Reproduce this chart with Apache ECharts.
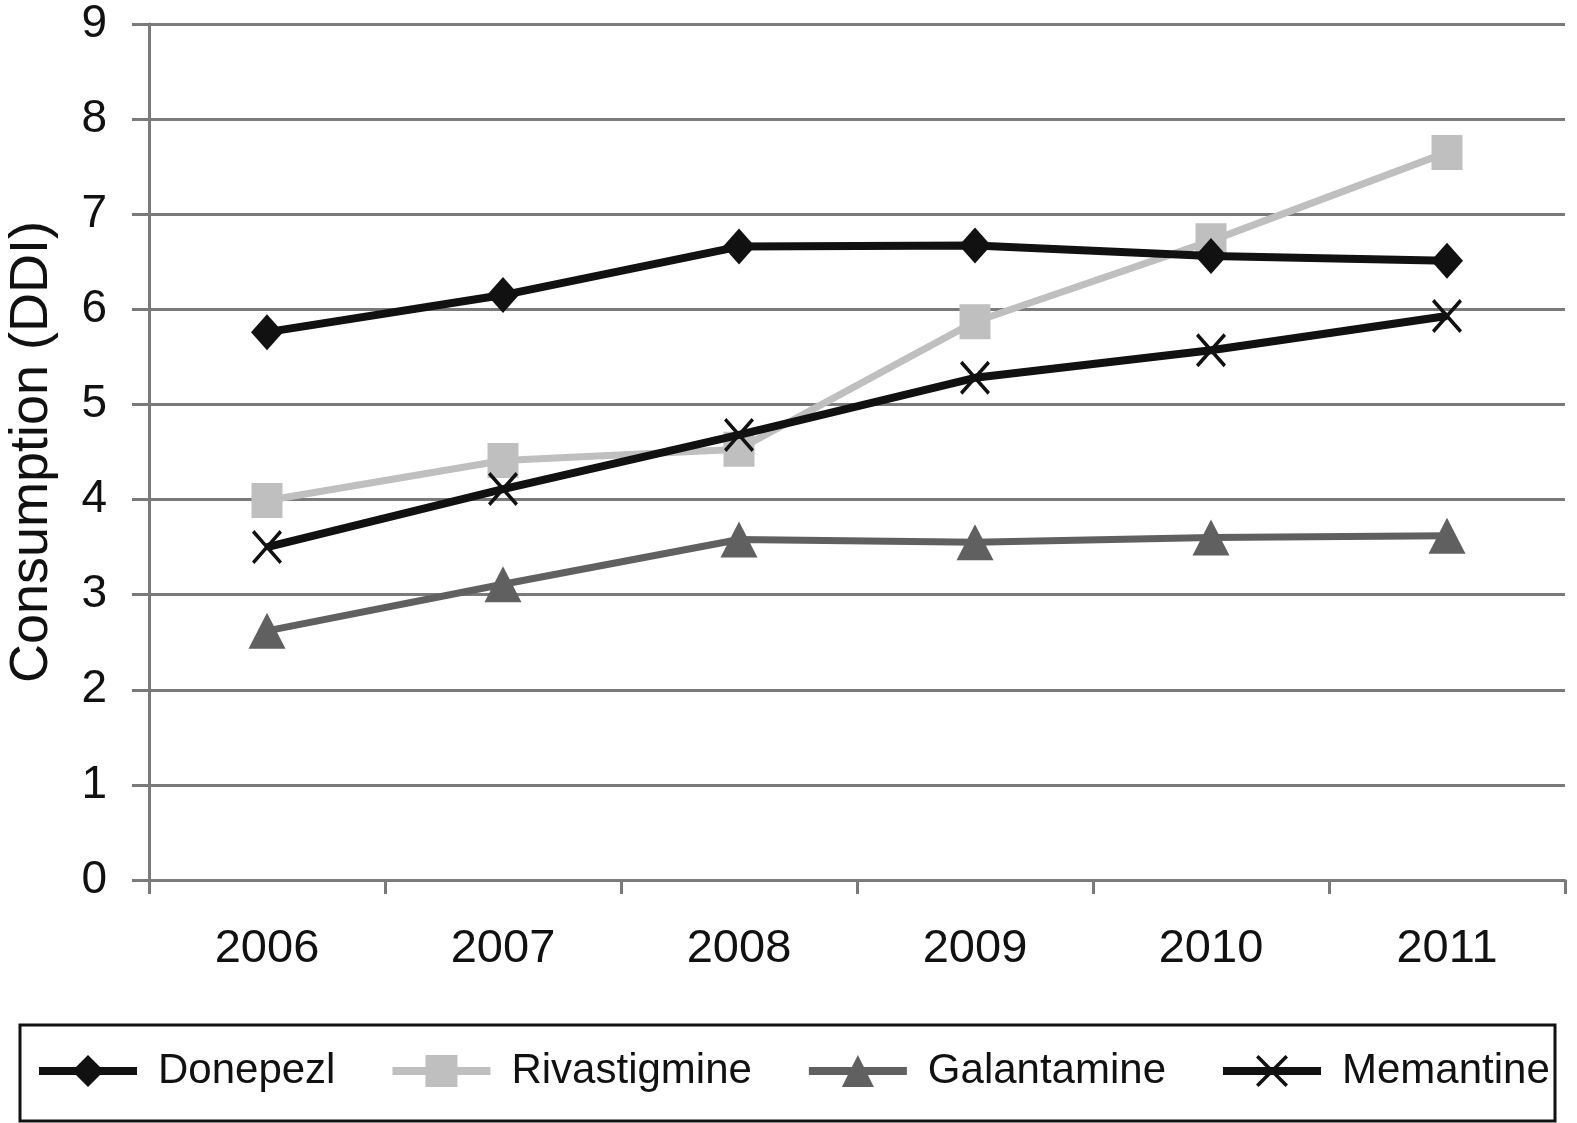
<!DOCTYPE html>
<html>
<head>
<meta charset="utf-8">
<script src="https://cdn.jsdelivr.net/npm/echarts@6/dist/echarts.min.js"></script>
<style>html,body{margin:0;padding:0;background:#fff}#c{width:1577px;height:1123px}</style>
</head>
<body>
<div id="c"></div>
<script>
const years = ['2006','2007','2008','2009','2010','2011'];
const donepezil = [5.76, 6.15, 6.66, 6.67, 6.56, 6.51];
const rivastigmine = [3.99, 4.41, 4.53, 5.87, 6.72, 7.65];
const galantamine = [2.62, 3.11, 3.58, 3.55, 3.60, 3.62];
const memantine = [3.50, 4.11, 4.68, 5.28, 5.57, 5.93];
const yTicks = [0, 1, 2, 3, 4, 5, 6, 7, 8, 9];

const xPath = 'path://M0,0.8L0.8,0L5,4.2L9.2,0L10,0.8L5.8,5L10,9.2L9.2,10L5,5.8L0.8,10L0,9.2L4.2,5Z';
const font = 'Liberation Sans, Arial, sans-serif';

const chart = echarts.init(document.getElementById('c'));
chart.setOption({
  animation: false,
  backgroundColor: '#fff',
  textStyle: { fontFamily: font },
  grid: { left: 149, top: 24, right: 12, bottom: 243, containLabel: false, outerBoundsMode: 'none' },
  xAxis: {
    type: 'category',
    data: years,
    boundaryGap: true,
    axisLine: { lineStyle: { color: '#7a7a7a', width: 3 } },
    axisTick: { show: true, length: 14, lineStyle: { color: '#7a7a7a', width: 3 } },
    axisLabel: { color: '#111', fontSize: 47, margin: 46, fontFamily: font },
    splitLine: { show: false }
  },
  yAxis: {
    type: 'value',
    min: yTicks[0],
    max: yTicks[yTicks.length - 1],
    interval: 1,
    name: 'Consumption (DDI)',
    nameLocation: 'middle',
    nameGap: 90,
    nameTextStyle: { color: '#111', fontSize: 54, fontFamily: font },
    axisLine: { show: true, lineStyle: { color: '#7a7a7a', width: 3 } },
    axisTick: { show: true, length: 17, lineStyle: { color: '#7a7a7a', width: 3 } },
    axisLabel: { color: '#111', fontSize: 46, margin: 42, fontFamily: font },
    splitLine: { show: true, lineStyle: { color: '#7a7a7a', width: 3 } }
  },
  legend: {
    left: 35,
    top: 1050,
    padding: 0,
    itemWidth: 98,
    itemHeight: 40,
    itemGap: 53,
    lineStyle: { width: 8 },
    textStyle: { color: '#111', fontSize: 42, fontFamily: font, padding: [0, 0, 0, 16] },
    data: ['Donepezl', 'Rivastigmine', 'Galantamine', 'Memantine']
  },
  graphic: [{
    type: 'rect',
    shape: { x: 20, y: 1025, width: 1535, height: 96 },
    style: { fill: 'none', stroke: '#111', lineWidth: 3 },
    z: 0
  }],
  series: [
    {
      name: 'Donepezl', type: 'line', data: donepezil,
      symbol: 'diamond', symbolSize: [32, 36], z: 5,
      lineStyle: { color: '#111', width: 8 },
      itemStyle: { color: '#111' }
    },
    {
      name: 'Rivastigmine', type: 'line', data: rivastigmine,
      symbol: 'rect', symbolSize: [31, 35], z: 4,
      lineStyle: { color: '#bfbfbf', width: 7 },
      itemStyle: { color: '#bfbfbf' }
    },
    {
      name: 'Galantamine', type: 'line', data: galantamine,
      symbol: 'triangle', symbolSize: [37, 36], z: 3,
      lineStyle: { color: '#606060', width: 7 },
      itemStyle: { color: '#606060' }
    },
    {
      name: 'Memantine', type: 'line', data: memantine,
      symbol: xPath, symbolSize: [30, 34], z: 6,
      lineStyle: { color: '#111', width: 8 },
      itemStyle: { color: '#111' }
    }
  ]
});
</script>
</body>
</html>
